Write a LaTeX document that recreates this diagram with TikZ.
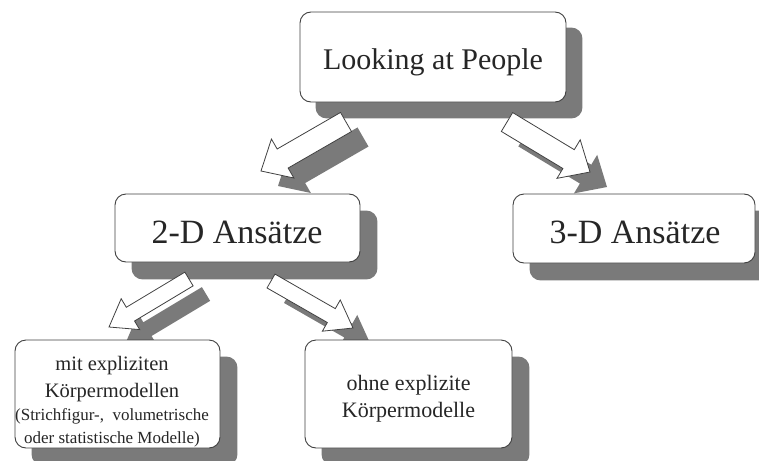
\documentclass[tikz,border=0pt]{standalone}
\usepackage{fontspec}
\setmainfont{Liberation Serif}
\usetikzlibrary{calc}
\pgfdeclarelayer{bg}
\pgfdeclarelayer{mid}
\pgfsetlayers{bg,mid,main}
\tikzset{
  box/.style={draw=black!75, line width=0.9pt, fill=white, rounded corners=11pt, inner sep=0pt},
  txt/.style={inner sep=0pt, text=black!85},
  shad/.style={fill=black!52},
  barrow/.style={draw=black!75, line width=0.8pt, fill=white, line join=miter},
}
\newcommand{\barrowpath}[6]{%
  \coordinate (tmpH) at ($(#2)!#5!(#1)$);
  \path[#6] ($(#1)!#3!90:(#2)$) -- ($(tmpH)!#3!90:(#2)$) -- ($(tmpH)!#4!90:(#2)$) -- (#2)
    -- ($(tmpH)!#4!-90:(#2)$) -- ($(tmpH)!#3!-90:(#2)$) -- ($(#1)!#3!-90:(#2)$) -- cycle;}
\begin{document}
\begin{tikzpicture}[x=1pt, y=-1pt]
\useasboundingbox (0,0) rectangle (759,460);
% boxes
\node[box, minimum width=266pt, minimum height=90pt] (lp) at (433,57) {};
\node[box, minimum width=245pt, minimum height=68pt] (d2) at (237.5,228) {};
\node[box, minimum width=242pt, minimum height=69pt] (d3) at (634,228.5) {};
\node[box, minimum width=205pt, minimum height=108pt] (mit) at (117.5,394) {};
\node[box, minimum width=207pt, minimum height=108pt] (ohne) at (408.5,394) {};
% texts
\node[txt, anchor=base] (lpt) at (433,70) {\fontsize{30}{36}\selectfont Looking at People};
\node[txt, anchor=base] (d2t) at (237,243) {\fontsize{34}{40}\selectfont 2-D Ansätze};
\node[txt, anchor=base] (d3t) at (635,243) {\fontsize{34}{40}\selectfont 3-D Ansätze};
\node[txt, anchor=base] (mitt) at (112,370) {\fontsize{20.5}{27}\selectfont\begin{tabular}[t]{@{}c@{}}mit expliziten\\Körpermodellen\\[-4pt]\fontsize{17}{22}\selectfont (Strichfigur-,\ \ volumetrische\\[-4pt]\fontsize{17}{22}\selectfont oder statistische Modelle)\end{tabular}};
\node[txt, anchor=base] (ohnet) at (408.5,390) {\fontsize{22}{27}\selectfont\begin{tabular}[t]{@{}c@{}}ohne explizite\\Körpermodelle\end{tabular}};
% box shadows
\begin{pgfonlayer}{bg}
\foreach \n/\o in {lp/16, d2/17, d3/17, mit/17, ohne/17}{
  \fill[shad, rounded corners=11pt] ($(\n.south west)+(\o,\o)$) rectangle ($(\n.north east)+(\o,\o)$);
}
\end{pgfonlayer}
% arrow end points
\coordinate (a1s) at (346,122); \coordinate (a1e) at (261,171);
\coordinate (a2s) at (507,122); \coordinate (a2e) at (590,172);
\coordinate (a3s) at (189,279); \coordinate (a3e) at (109,327);
\coordinate (a4s) at (271,281); \coordinate (a4e) at (353,328);
\foreach \a in {a1,a2,a3,a4}{
  \coordinate (\a ss) at ($(\a s)+(17,15)$);
  \coordinate (\a es) at ($(\a e)+(17,15)$);
}
\begin{pgfonlayer}{mid}
\barrowpath{a1ss}{a1es}{11pt}{22.5pt}{25pt}{shad}
\barrowpath{a2ss}{a2es}{11pt}{22.5pt}{25pt}{shad}
\barrowpath{a3ss}{a3es}{8pt}{18pt}{25pt}{shad}
\barrowpath{a4ss}{a4es}{8pt}{18pt}{25pt}{shad}
\barrowpath{a1s}{a1e}{11pt}{22.5pt}{25pt}{barrow}
\barrowpath{a2s}{a2e}{11pt}{22.5pt}{25pt}{barrow}
\barrowpath{a3s}{a3e}{8pt}{18pt}{25pt}{barrow}
\barrowpath{a4s}{a4e}{8pt}{18pt}{25pt}{barrow}
\end{pgfonlayer}
\end{tikzpicture}
\end{document}
